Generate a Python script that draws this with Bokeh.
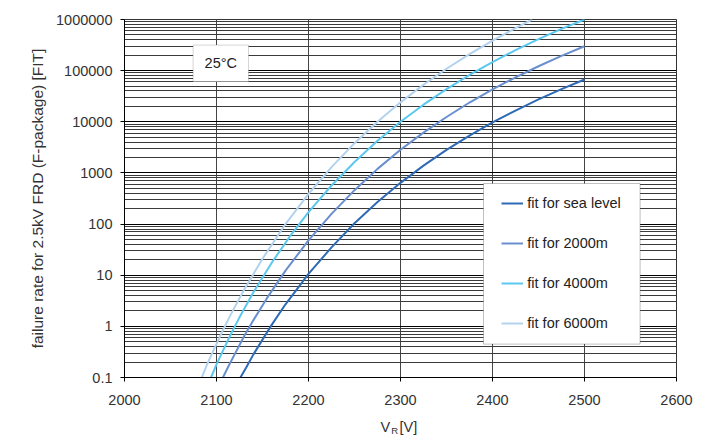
from bokeh.plotting import figure
from bokeh.layouts import column
from bokeh.models import (FixedTicker, CustomJSTickFormatter, Legend, LegendItem,
                          BoxAnnotation, Label, Range1d)
from bokeh.embed import file_html
from bokeh.resources import INLINE

# Failure rate [FIT] versus reverse voltage V_R [V], 25 degC
v_sea = [2126, 2132, 2140, 2150, 2160, 2175, 2200, 2225, 2250, 2275, 2300, 2325,
         2350, 2375, 2400, 2425, 2450, 2475, 2500]
fit_sea = [0.1, 0.153, 0.28, 0.55, 1.07, 2.7, 10.6, 35, 104, 270, 640, 1390,
           2830, 5370, 9700, 16600, 27400, 43500, 67000]

v_2000 = [2107, 2113, 2120, 2130, 2140, 2155, 2175, 2200, 2225, 2250, 2275, 2300,
          2325, 2350, 2375, 2400, 2425, 2450, 2475, 2500]
fit_2000 = [0.1, 0.166, 0.29, 0.64, 1.31, 3.6, 12.3, 48, 158, 460, 1200, 2830,
            6140, 12400, 23800, 43000, 74000, 122000, 195000, 300000]

v_4000 = [2094, 2100, 2105, 2115, 2125, 2140, 2160, 2180, 2200, 2225, 2250, 2275,
          2300, 2325, 2350, 2375, 2400, 2425, 2450, 2475, 2500]
fit_4000 = [0.1, 0.18, 0.28, 0.67, 1.5, 4.6, 17.5, 58, 171, 568, 1640, 4260,
            10000, 21600, 43400, 82200, 147000, 252000, 414000, 655000, 1000000]

v_6000 = [2084, 2090, 2095, 2105, 2115, 2130, 2150, 2175, 2200, 2225, 2250, 2275,
          2300, 2325, 2350, 2375, 2400, 2425, 2443]
fit_6000 = [0.1, 0.184, 0.29, 0.71, 1.64, 5.2, 21, 100, 390, 1300, 3820, 10000,
            24000, 53000, 109000, 211000, 388000, 680000, 1000000]

series_labels = ["fit for sea level", "fit for 2000m", "fit for 4000m", "fit for 6000m"]
series_colors = ["#2E6AB5", "#6A8FCF", "#5BC8EF", "#B3D2EE"]

x_ticks = [2000, 2100, 2200, 2300, 2400, 2500, 2600]
y_ticks = [0.1, 1, 10, 100, 1000, 10000, 100000, 1000000]
y_minor = [m * d for d in y_ticks[:-1] for m in range(2, 10)]

FONT = "Liberation Sans"
FS = "14.5px"

p = figure(width=710, height=415, output_backend="svg", toolbar_location=None,
           y_axis_type="log", x_range=Range1d(2000, 2600), y_range=Range1d(0.1, 1e6),
           min_border_left=124, min_border_right=34, min_border_top=19,
           min_border_bottom=38)
p.background_fill_color = "white"
p.border_fill_color = "white"
p.outline_line_color = "#333333"
p.outline_line_width = 1

# axes
p.xaxis.ticker = FixedTicker(ticks=x_ticks)
p.yaxis.ticker = FixedTicker(ticks=y_ticks, minor_ticks=y_minor)
p.yaxis.formatter = CustomJSTickFormatter(
    code="return tick < 1 ? tick.toString() : tick.toFixed(0);")
for ax in (p.xaxis, p.yaxis):
    ax.major_label_text_font = FONT
    ax.major_label_text_font_size = FS
    ax.major_label_text_color = "#333333"
    ax.axis_line_color = "#000000"
    ax.major_tick_line_color = "#000000"
    ax.major_tick_out = 4
    ax.major_tick_in = 0
    ax.minor_tick_out = 0
    ax.minor_tick_in = 0
p.yaxis.major_label_standoff = 8
p.xaxis.major_label_standoff = 13
p.yaxis.axis_label = "failure rate for 2.5kV FRD (F-package) [FIT]"
p.yaxis.axis_label_text_font = FONT
p.yaxis.axis_label_text_font_size = "15.5px"
p.yaxis.axis_label_text_font_style = "normal"
p.yaxis.axis_label_text_color = "#333333"
p.yaxis.axis_label_standoff = 7

# grid
p.xgrid.grid_line_color = "#444444"
p.xgrid.grid_line_width = 1
p.ygrid.grid_line_color = "#000000"
p.ygrid.grid_line_width = 1
p.ygrid.minor_grid_line_color = "#3a3a3a"
p.ygrid.minor_grid_line_width = 1

# curves
renderers = []
for xs, ys, c in zip([v_sea, v_2000, v_4000, v_6000],
                     [fit_sea, fit_2000, fit_4000, fit_6000], series_colors):
    renderers.append(p.line(xs, ys, line_color=c, line_width=2))

# legend frame and legend
p.add_layout(BoxAnnotation(left=359, right=515.6, bottom=33.4, top=194,
                           left_units="screen", right_units="screen",
                           bottom_units="screen", top_units="screen",
                           fill_color="white", fill_alpha=1.0,
                           line_color="#333333", line_width=1))
legend = Legend(items=[LegendItem(label=l, renderers=[r])
                       for l, r in zip(series_labels, renderers)],
                location=(377.3, 44), padding=0, margin=0, spacing=20,
                glyph_height=20, glyph_width=22, label_height=20, label_standoff=4,
                label_text_font=FONT, label_text_font_size=FS,
                label_text_color="#222222",
                border_line_alpha=0, background_fill_alpha=0)
p.add_layout(legend)

# temperature box
p.add_layout(BoxAnnotation(left=68.6, right=124, bottom=296, top=332.4,
                           left_units="screen", right_units="screen",
                           bottom_units="screen", top_units="screen",
                           fill_color="white", fill_alpha=1.0,
                           line_color="#777777", line_width=1))
p.add_layout(Label(x=96.3, y=314.2, x_units="screen", y_units="screen",
                   text="25°C", text_align="center", text_baseline="middle",
                   text_font=FONT, text_font_size=FS, text_color="#222222"))

# x axis title strip (frame aligned with the plot frame): V with subscript R
t = figure(width=710, height=20, output_backend="svg", toolbar_location=None,
           x_range=Range1d(0, 552), y_range=Range1d(0, 20),
           x_axis_location=None, y_axis_location=None,
           min_border_left=124, min_border_right=34,
           min_border_top=0, min_border_bottom=0)
t.outline_line_color = None
t.background_fill_color = "white"
t.border_fill_color = "white"
t.xgrid.visible = False
t.ygrid.visible = False
t.add_layout(Label(x=256.0, y=8.5, x_units="screen", y_units="screen",
                   text="V", text_align="left", text_baseline="middle",
                   text_font=FONT, text_font_size=FS, text_color="#333333"))
t.add_layout(Label(x=266.8, y=5.0, x_units="screen", y_units="screen",
                   text="R", text_align="left", text_baseline="middle",
                   text_font=FONT, text_font_size="9.5px", text_color="#333333"))
t.add_layout(Label(x=275.0, y=8.5, x_units="screen", y_units="screen",
                   text="[V]", text_align="left", text_baseline="middle",
                   text_font=FONT, text_font_size=FS, text_color="#333333"))

layout = column(p, t, spacing=0)
open("out.html", "w").write(file_html(layout, INLINE))
